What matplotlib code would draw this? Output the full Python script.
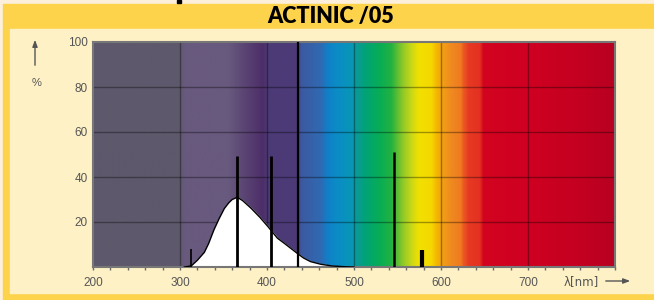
import numpy as np
import matplotlib
matplotlib.use("Agg")
import matplotlib.pyplot as plt
from matplotlib.patches import Rectangle, FancyArrowPatch

# continuous spectrum of the lamp (nm, relative %)
curve_nm = [305, 313, 320, 328, 333, 339, 345, 351, 356, 360, 366, 372, 382, 392, 401, 412, 420, 430, 435, 442, 450,
            456, 462, 474, 490, 500]
curve_pct = [0, 0.5, 3, 6.5, 10.5, 16.5, 21.5, 26, 28.5, 30, 31, 29.5, 26, 22, 18, 12.8, 10.5, 7.5, 6, 4, 2.4,
             1.8, 1.2, 0.5, 0.1, 0]

# mercury emission lines
line_nm = [313, 365, 405, 436, 546, 578]
line_pct = [8, 49.5, 49.5, 100, 51, 7.5]
line_w = [1.2, 2.0, 2.0, 1.6, 1.8, 3.0]

x_ticks = [200, 300, 400, 500, 600, 700]
y_ticks = [20, 40, 60, 80, 100]

# background colour strip (visible spectrum)
band_nm = [200, 300, 305, 355, 395, 401, 434, 440, 462, 470, 480, 497, 503, 515, 530, 543, 556, 566, 575, 589, 595, 600,
           612, 623, 626, 632, 645, 649, 700, 760, 800]
band_col = ['#5e586c', '#5e586c', '#68597e', '#68597e', '#4c2e68', '#4c3a76', '#4c3a78', '#3b5aa2', '#2f6ab2', '#1080c8',
            '#0b8cc6', '#0896b8', '#0a9a98', '#02a472', '#08ad55', '#22b242', '#8cc828', '#c8d818', '#f2e000', '#f5d800',
            '#f5b800', '#f2a412', '#f08a20', '#ef7a20', '#eb5a22', '#e63a22', '#e43022', '#d2041f', '#cf0022', '#c40020',
            '#b80022']

W, H = 654, 300
fig = plt.figure(figsize=(W / 100, H / 100), dpi=100)
fig.patch.set_facecolor('#fcf0dc')
fig.patches.append(Rectangle((3 / W, 0), 1, 296 / H, transform=fig.transFigure, color='#fdd34c', zorder=-10))
fig.patches.append(Rectangle((10 / W, 7 / H), 1, (271 - 7) / H, transform=fig.transFigure, color='#fef1c6', zorder=-9))
# bit of a cut-off letter at the very top
fig.patches.append(Rectangle((177 / W, 1 - 3 / H), 4 / W, 3 / H, transform=fig.transFigure, color='black', zorder=-8))

fig.text(331 / W, 1 - 16 / H, 'ACTINIC /05', ha='center', va='center', fontsize=15.5, fontweight='heavy',
         family='Lato', color='black')

ax = fig.add_axes([93 / W, 33 / H, (615 - 93) / W, (267 - 42) / H])
ax.set_zorder(2)

grid_x = np.arange(200, 801)
rgb = np.array([matplotlib.colors.to_rgb(c) for c in band_col])
strip = np.stack([np.interp(grid_x, band_nm, rgb[:, k]) for k in range(3)], axis=-1)
ax.imshow(strip[np.newaxis, :, :], extent=[200, 800, 0, 100], aspect='auto', zorder=0)

for gx in x_ticks[1:]:
    ax.axvline(gx, color='black', alpha=0.35, lw=1, zorder=1)
for gy in y_ticks[:-1]:
    ax.axhline(gy, color='black', alpha=0.35, lw=1, zorder=1)

ax.fill_between(curve_nm, curve_pct, 0, color='white', zorder=2)
ax.plot(curve_nm, curve_pct, color='black', lw=1, zorder=3)
ax.vlines(line_nm, 0, line_pct, colors='black', linewidth=line_w, zorder=4)

ax.set_xlim(200, 800)
ax.set_ylim(0, 100)
ax.set_xticks(x_ticks)
ax.set_xticks(np.arange(200, 801, 20), minor=True)
ax.set_yticks(y_ticks)
ax.tick_params(axis='x', which='both', length=2.5, width=1, color='#6a6a6a', direction='out',
               labelsize=8.5, labelcolor='#555555', pad=5)
ax.tick_params(axis='y', length=0, labelsize=8.5, labelcolor='#555555', pad=4)
for lab in ax.get_xticklabels() + ax.get_yticklabels():
    lab.set_family('Liberation Sans')
for s in ax.spines.values():
    s.set_color('#777777')
    s.set_linewidth(1.5)

# axis captions
fig.text(581 / W, 1 - 282 / H, 'λ[nm]', ha='center', va='center', fontsize=8.5, color='#555555', family='DejaVu Sans')
fig.patches.append(FancyArrowPatch((603 / W, 1 - 281 / H), (633 / W, 1 - 281 / H),
                   transform=fig.transFigure, arrowstyle='-|>,head_length=4,head_width=1.5',
                   color='#555555', lw=1))
fig.patches.append(FancyArrowPatch((35 / W, 1 - 68 / H), (35 / W, 1 - 37 / H),
                   transform=fig.transFigure, arrowstyle='-|>,head_length=4,head_width=1.5',
                   color='#555555', lw=1))
fig.text(37 / W, 1 - 83 / H, '%', ha='center', va='center', fontsize=8, color='#555555', family='Liberation Sans')

fig.savefig('out.png', dpi=100, facecolor=fig.get_facecolor())
